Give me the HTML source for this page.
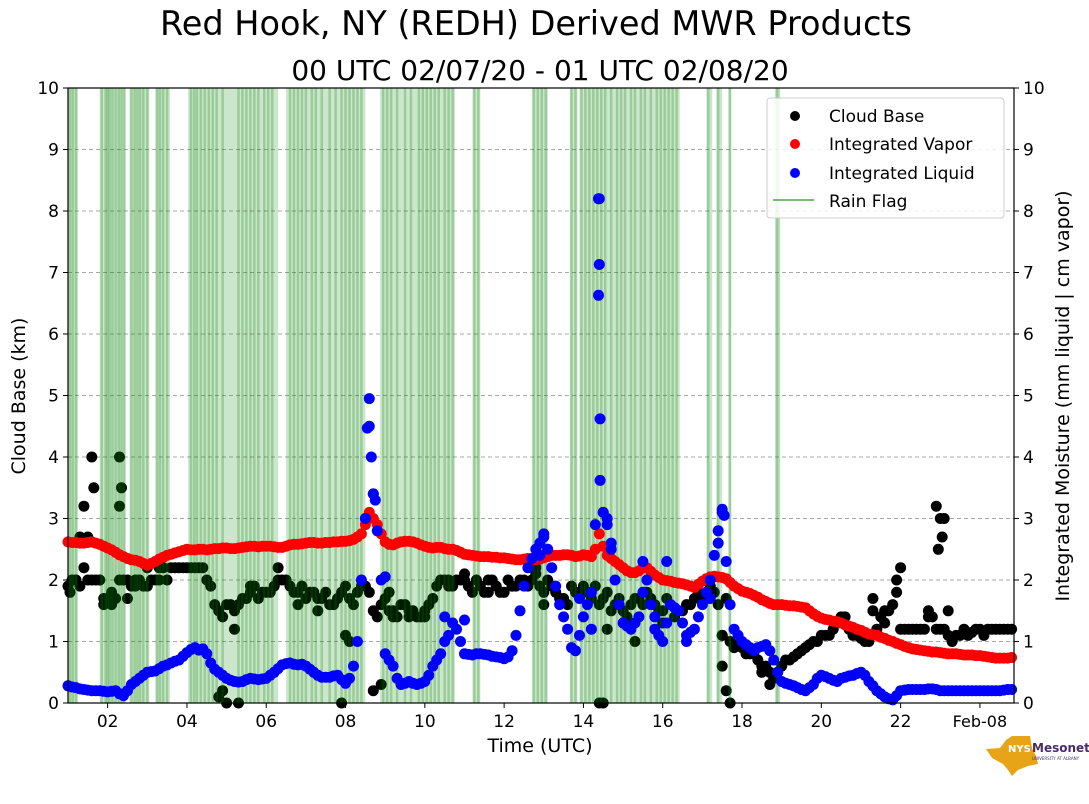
<!DOCTYPE html>
<html><head><meta charset="utf-8">
<style>
body{margin:0;background:#fff;}
svg{display:block;font-family:"DejaVu Sans","Liberation Sans",sans-serif;}
</style></head>
<body>
<svg id="chart" width="1089" height="804" viewBox="0 0 1089 804" xmlns="http://www.w3.org/2000/svg">
<text x="536" y="35" font-size="33.5" text-anchor="middle">Red Hook, NY (REDH) Derived MWR Products</text>
<text x="540" y="80" font-size="28" text-anchor="middle">00 UTC 02/07/20 - 01 UTC 02/08/20</text>
<g id="grid"></g>
<g id="cloud"></g>
<g id="rain"></g>
<g id="vapor"></g>
<g id="liquid"></g>
<rect x="68" y="88" width="946" height="615" fill="none" stroke="#000" stroke-width="1.2"/>
<g id="axes"></g>
<text transform="translate(25,396) rotate(-90)" font-size="19" text-anchor="middle">Cloud Base (km)</text>
<text transform="translate(1069,396) rotate(-90)" font-size="19" text-anchor="middle">Integrated Moisture (mm liquid | cm vapor)</text>
<text x="540" y="752" font-size="19" text-anchor="middle">Time (UTC)</text>
<g>
<rect x="767" y="98" width="237" height="120" rx="3" fill="#fff" fill-opacity="0.85" stroke="#ccc"/>
<circle cx="795" cy="116" r="5" fill="#000"/>
<text x="829" y="122" font-size="17">Cloud Base</text>
<circle cx="795" cy="144" r="5" fill="#f00"/>
<text x="829" y="150" font-size="17">Integrated Vapor</text>
<circle cx="795" cy="173" r="5" fill="#00f"/>
<text x="829" y="179" font-size="17">Integrated Liquid</text>
<line x1="773" y1="200" x2="814" y2="200" stroke="#77bb77" stroke-width="2"/>
<text x="829" y="207" font-size="17">Rain Flag</text>
</g>
<g>
<path d="M986,749 L1000,748 L1006,740 L1012,736 L1030,736 L1032,748 L1036,756 L1038,764 L1028,766 L1018,770 L1012,776 L1008,770 L1003,764 L992,758 Z" fill="#e8a417"/>
<text x="1008" y="752" font-size="10" font-weight="bold" fill="#fff">NYS</text>
<text x="1032" y="752" font-size="12" font-weight="bold" fill="#4b2a6e">Mesonet</text>
<text x="1032" y="760" font-size="4" fill="#4b2a6e">UNIVERSITY AT ALBANY</text>
</g>
</svg>
<script>
const startHour = 1.0, stepHour = 0.1;
const vaporValues = [
2.62,2.61,2.61,2.6,2.6,2.61,2.62,2.6,2.58,2.55,
2.52,2.49,2.45,2.41,2.38,2.35,2.33,2.32,2.3,2.27,
2.24,2.27,2.3,2.34,2.37,2.4,2.42,2.44,2.46,2.48,
2.5,2.49,2.49,2.5,2.5,2.49,2.5,2.51,2.51,2.52,
2.52,2.51,2.51,2.52,2.53,2.54,2.55,2.55,2.54,2.55,
2.55,2.55,2.54,2.53,2.53,2.55,2.57,2.58,2.58,2.59,
2.6,2.61,2.61,2.6,2.6,2.61,2.61,2.62,2.62,2.63,
2.63,2.64,2.66,2.7,2.75,2.9,3.1,3.0,2.9,2.75,
2.62,2.58,2.57,2.6,2.62,2.63,2.63,2.62,2.6,2.57,
2.55,2.53,2.52,2.53,2.53,2.51,2.5,2.5,2.48,2.45,
2.42,2.41,2.4,2.39,2.38,2.38,2.38,2.37,2.37,2.36,
2.36,2.35,2.34,2.33,2.33,2.34,2.35,2.34,2.33,2.34,
2.36,2.38,2.4,2.4,2.4,2.41,2.41,2.4,2.38,2.39,
2.41,2.4,2.38,2.5,2.75,2.55,2.4,2.35,2.3,2.25,
2.2,2.15,2.12,2.12,2.15,2.2,2.2,2.14,2.08,2.04,
2.0,1.99,1.98,1.96,1.95,1.94,1.92,1.9,1.88,1.93,
1.98,2.02,2.05,2.06,2.05,2.04,2.02,1.96,1.9,1.86,
1.82,1.8,1.78,1.75,1.72,1.68,1.65,1.62,1.6,1.6,
1.6,1.59,1.58,1.58,1.57,1.56,1.55,1.5,1.45,1.41,
1.38,1.36,1.35,1.33,1.32,1.3,1.27,1.25,1.23,1.2,
1.18,1.15,1.12,1.11,1.1,1.07,1.05,1.02,1.0,0.97,
0.95,0.92,0.9,0.88,0.87,0.86,0.85,0.84,0.83,0.83,
0.82,0.81,0.8,0.8,0.8,0.79,0.78,0.78,0.78,0.77,
0.77,0.76,0.75,0.74,0.73,0.73,0.73,0.73,0.74];
const liquidValues = [
0.28,0.26,0.25,0.23,0.22,0.21,0.2,0.2,0.2,0.19,
0.18,0.19,0.2,0.15,0.12,0.2,0.3,0.35,0.4,0.45,
0.5,0.51,0.52,0.56,0.6,0.62,0.65,0.68,0.7,0.76,
0.82,0.87,0.9,0.86,0.88,0.8,0.65,0.55,0.5,0.45,
0.4,0.37,0.35,0.34,0.35,0.38,0.4,0.39,0.38,0.39,
0.4,0.45,0.5,0.56,0.62,0.64,0.65,0.63,0.62,0.63,
0.6,0.55,0.5,0.45,0.42,0.42,0.42,0.44,0.45,0.38,
0.32,0.4,0.6,1.0,2.0,3.0,4.5,3.4,2.8,2.0,
0.8,0.7,0.6,0.4,0.3,0.32,0.35,0.32,0.3,0.32,
0.35,0.45,0.6,0.7,0.8,1.0,1.1,1.3,1.2,1.0,
0.8,0.79,0.78,0.8,0.8,0.79,0.78,0.76,0.75,0.74,
0.72,0.75,0.85,1.1,1.5,1.9,2.2,2.35,2.5,2.6,
2.7,2.5,2.2,1.9,1.6,1.4,1.2,0.9,0.85,1.1,
1.4,1.6,1.8,2.9,8.2,3.1,3.0,2.5,2.0,1.6,
1.3,1.25,1.2,1.3,1.4,1.8,2.0,1.6,1.2,1.1,
1.0,1.3,1.6,1.55,1.5,1.3,1.1,1.15,1.2,1.4,
1.6,1.8,2.0,2.4,2.8,3.1,2.3,1.6,1.2,1.1,
1.0,0.95,0.9,0.85,0.9,0.92,0.95,0.85,0.7,0.5,
0.35,0.32,0.3,0.28,0.25,0.22,0.2,0.25,0.3,0.4,
0.45,0.43,0.4,0.37,0.35,0.4,0.42,0.44,0.45,0.48,
0.5,0.45,0.35,0.28,0.2,0.15,0.1,0.07,0.05,0.12,
0.2,0.21,0.22,0.22,0.22,0.22,0.22,0.23,0.23,0.22,
0.2,0.2,0.2,0.2,0.2,0.2,0.2,0.2,0.2,0.2,
0.2,0.2,0.2,0.2,0.2,0.2,0.21,0.22,0.22];
const liquidExtraTimes = [8.55,8.6,8.65,8.7,8.75,8.5,14.38,14.4,14.38,14.42,14.42,14.5,14.6,14.7,17.5,17.55,17.4,13.0,12.9,15.5,16.1,9.0,10.5,13.9,14.2,15.8,16.6,17.2,11.0];
const liquidExtraValues = [4.47,4.95,4.0,3.4,3.3,3.0,8.2,7.13,6.63,4.62,3.62,3.1,2.9,2.6,3.15,3.05,2.6,2.75,2.4,2.3,2.3,2.05,1.4,1.7,1.2,1.4,1.0,1.7,1.35];
const cloudHourA = 1.0, cloudHourB = 1.1, cloudStep = 0.2;
const cloudValues = [1.9,2.0,2.2,2.0,2.0,1.7,1.7,2.0,1.9,2.0,1.9,2.0,2.2,2.2,2.2,2.2,2.2,2.2,1.9,1.5,1.6,1.5,1.7,1.8,1.7,1.8,1.9,2.0,1.9,1.8,1.7,1.8,1.7,1.6,1.7,1.9,1.6,1.9,1.8,1.4,1.7,1.5,1.6,1.5,1.4,1.5,1.7,2.0,2.0,2.0,2.0,1.8,1.9,1.8,1.9,1.8,1.9,2.0,1.9,2.1,1.8,1.9,1.7,1.6,1.8,1.9,1.7,1.6,1.8,1.6,1.5,1.6,1.7,1.8,1.6,1.5,1.6,1.5,1.6,1.7,1.7,1.9,1.6,1.7,0.9,0.9,0.8,0.7,0.6,0.4,0.6,0.7,0.8,0.9,1.0,1.1,1.1,1.3,1.4,1.1,1.05,1.0,1.2,1.3,1.6,1.2,1.2,1.2,1.2,1.4,1.2,1.1,1.1,1.2,1.15,1.2,1.2,1.2,1.2,1.2];
const cloudValuesB = [2.0,1.9,2.0,2.0,1.7,1.8,2.0,2.0,2.0,1.9,2.0,2.2,2.0,2.2,2.2,2.2,2.2,2.0,1.6,1.4,1.6,1.6,1.7,1.9,1.8,1.8,2.0,2.0,1.8,1.9,1.8,1.7,1.8,1.6,1.8,1.7,1.8,1.9,1.5,1.6,1.5,1.4,1.6,1.5,1.4,1.6,1.9,2.0,1.9,2.0,1.9,2.0,1.8,2.0,1.8,2.0,1.9,2.0,2.0,1.9,2.0,1.8,1.7,1.9,1.8,1.8,1.9,1.7,1.5,1.7,1.4,1.7,1.6,1.7,1.5,1.7,1.4,1.5,1.6,1.8,1.7,1.8,1.1,1.0,1.0,0.8,0.8,0.6,0.5,0.5,0.7,0.75,0.85,0.95,1.0,1.1,1.2,1.4,1.2,1.1,1.0,1.5,1.4,1.5,1.8,1.2,1.2,1.2,1.4,1.2,1.2,1.0,1.1,1.1,1.2,1.1,1.2,1.2,1.2];
const cloudExtraTimes = [1.6,1.65,1.4,1.3,1.5,2.3,2.35,2.3,1.05,1.9,2.1,2.5,4.9,4.8,5.0,5.3,5.2,7.9,8.1,8.7,8.9,9.2,9.6,10.0,10.6,11.0,13.0,14.4,14.5,14.6,15.3,16.0,17.5,17.6,17.7,17.5,18.5,18.7,21.3,21.6,21.9,22.0,22.9,22.95,23.0,23.1,23.05,23.2,22.7,12.8,3.0,9.1,6.3,7.3,8.0,1.2,1.8,2.7,3.3,5.6,6.8,11.6,12.2];
const cloudExtraValues = [4.0,3.5,3.2,2.7,2.7,4.0,3.5,3.2,1.8,1.6,1.6,1.7,0.2,0.1,0.0,0.0,1.2,0.0,1.0,0.2,0.3,1.4,1.4,1.4,1.9,2.1,1.6,0.0,0.0,1.2,1.0,1.3,0.6,0.2,0.0,1.1,0.5,0.3,1.7,1.5,2.0,2.2,3.2,2.5,3.0,3.0,2.7,1.5,1.5,2.2,2.2,1.8,2.2,1.5,1.1,2.0,2.0,1.9,2.0,1.9,1.6,2.0,1.9];
const rainStart = [1.0,1.8,2.55,3.2,4.03,6.5,8.87,11.2,12.7,13.66,13.9,17.1,17.35,17.65,18.85];
const rainEnd   = [1.25,2.45,3.05,3.57,6.3,8.5,10.76,11.4,13.1,13.85,16.43,17.25,17.5,17.72,18.92];
const rainLines = [1.05,1.12,1.2,1.85,1.95,2.0,2.05,2.12,2.2,2.28,2.35,2.42,2.6,2.68,2.75,2.82,2.9,3.0,3.25,3.32,3.4,3.5,4.1,4.18,4.25,4.35,4.45,4.55,4.65,4.75,4.9,5.3,5.4,5.5,5.6,5.7,5.8,5.95,6.05,6.15,6.6,6.7,6.8,6.9,7.0,7.15,7.25,7.4,7.6,7.75,7.9,8.0,8.1,8.2,8.3,8.4,8.95,9.05,9.15,9.3,9.5,9.65,9.85,9.95,10.05,10.15,10.25,10.35,10.5,10.6,10.7,11.25,11.35,12.75,12.85,12.95,13.05,13.7,13.8,13.95,14.05,14.15,14.25,14.35,14.45,14.55,14.7,14.85,14.95,15.05,15.2,15.3,15.45,15.55,15.7,15.85,15.95,16.05,16.15,16.25,16.35,17.15,17.4,17.7,18.87,18.93];
const yTicks = [0,1,2,3,4,5,6,7,8,9,10];
const xTickHours = [2,4,6,8,10,12,14,16,18,20,22,24];
const xTickLabels = ["02","04","06","08","10","12","14","16","18","20","22","Feb-08"];

const X0=68, X1=1014, Y0=703, Y1=88, T0=1.0, T1=24.86, VMAX=10;
function xs(t){return X0+(t-T0)/(T1-T0)*(X1-X0);}
function ys(v){return Y0-v/VMAX*(Y0-Y1);}
const NS="http://www.w3.org/2000/svg";
function mk(tag,parent,attrs){const e=document.createElementNS(NS,tag);for(const k in attrs)e.setAttribute(k,attrs[k]);parent.appendChild(e);return e;}

const grid=document.getElementById('grid'), axes=document.getElementById('axes');
yTicks.forEach(v=>{
  if(v>0&&v<10){const g=mk('line',grid,{x1:X0,x2:X1,y1:ys(v),y2:ys(v),stroke:'#aaa','stroke-dasharray':'4,3','stroke-width':1});
  
  }
  const l=mk('line',axes,{x1:X0-5,x2:X0,y1:ys(v),y2:ys(v),stroke:'#000'});
  
  
  const r=mk('line',axes,{x1:X1,x2:X1+5,y1:ys(v),y2:ys(v),stroke:'#000'});
  
  
  const t=mk('text',axes,{x:X0-9,y:ys(v)+6,'font-size':17,'text-anchor':'end'});t.textContent=v;
  
  
  const t2=mk('text',axes,{x:X1+9,y:ys(v)+6,'font-size':17});t2.textContent=v;
  
  
});
xTickHours.forEach((h,i)=>{
  const l=mk('line',axes,{x1:xs(h),x2:xs(h),y1:Y0,y2:Y0+5,stroke:'#000'});
  
  
  const t=mk('text',axes,{x:xs(h),y:Y0+24,'font-size':i==xTickLabels.length-1?16:17,'text-anchor':'middle'});t.textContent=xTickLabels[i];
  
  
});

function dot(parent,t,v,color,name){
  const c=mk('circle',parent,{cx:xs(t).toFixed(1),cy:ys(v).toFixed(1),r:5.5,fill:color});
  
  
}
const cloud=document.getElementById('cloud');
cloudValues.forEach((v,i)=>dot(cloud,cloudHourA+i*cloudStep,v,'#000','cloud-base-point'));
cloudValuesB.forEach((v,i)=>dot(cloud,cloudHourB+i*cloudStep,v,'#000','cloud-base-point'));
cloudExtraTimes.forEach((t,i)=>dot(cloud,t,cloudExtraValues[i],'#000','cloud-base-point'));

const rain=document.getElementById('rain');
rainStart.forEach((s,i)=>{
  const r=mk('rect',rain,{x:xs(s),y:Y1,width:Math.max(1.5,xs(rainEnd[i])-xs(s)),height:Y0-Y1,fill:'rgb(0,128,0)','fill-opacity':0.2});
  
  
});
rainLines.forEach(t=>{
  const l=mk('line',rain,{x1:xs(t),x2:xs(t),y1:Y1,y2:Y0,stroke:'rgb(0,128,0)','stroke-opacity':0.25,'stroke-width':2.5});
  
  
});

const vapor=document.getElementById('vapor');
vaporValues.forEach((v,i)=>dot(vapor,startHour+i*stepHour,v,'#f00','vapor-point'));
const liquid=document.getElementById('liquid');
liquidValues.forEach((v,i)=>dot(liquid,startHour+i*stepHour,v,'#00f','liquid-point'));
liquidExtraTimes.forEach((t,i)=>dot(liquid,t,liquidExtraValues[i],'#00f','liquid-point'));
</script>
</body></html>
